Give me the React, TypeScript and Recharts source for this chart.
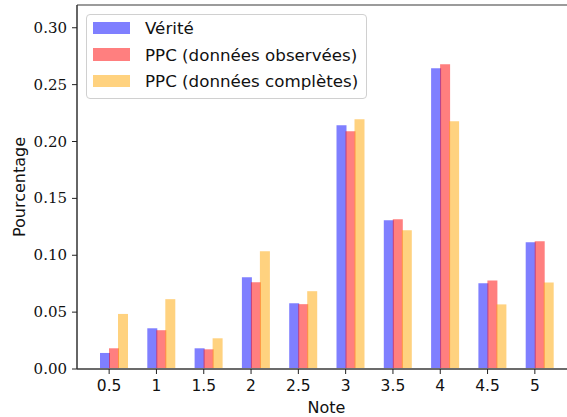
import { BarChart, Bar, XAxis, YAxis, Legend } from 'recharts'

const notes = ['0.5', '1', '1.5', '2', '2.5', '3', '3.5', '4', '4.5', '5']
const verite = [0.0141, 0.0358, 0.0182, 0.0807, 0.0578, 0.2143, 0.1307, 0.2645, 0.0753, 0.1114]
const ppcObservees = [0.0182, 0.0341, 0.0173, 0.0763, 0.057, 0.209, 0.1316, 0.268, 0.0779, 0.1122]
const ppcCompletes = [0.0484, 0.0614, 0.027, 0.1036, 0.0684, 0.2196, 0.1219, 0.2179, 0.0568, 0.0761]
const yTicks = [0, 0.05, 0.1, 0.15, 0.2, 0.25, 0.3]

const seriesInfo = [
  { key: 'verite', name: 'Vérité', color: '#0000ff' },
  { key: 'obs', name: 'PPC (données observées)', color: '#ff0000' },
  { key: 'comp', name: 'PPC (données complètes)', color: '#ffa500' },
]

const data = notes.map((note, i) => ({
  note,
  verite: verite[i],
  obs: ppcObservees[i],
  comp: ppcCompletes[i],
}))

const sans = '"DejaVu Sans", sans-serif'
const serif = '"DejaVu Serif", serif'

// matplotlib puts the tick a little left of the bar group centre
function XTick({ x, y, payload }: any) {
  const tx = x - 4.5
  return (
    <g>
      <line x1={tx} x2={tx} y1={y} y2={y + 5} stroke="#222" strokeWidth={1} />
      <text x={tx} y={y + 22} textAnchor="middle" fontFamily={sans} fontSize={15.5} fill="#111">
        {payload.value}
      </text>
    </g>
  )
}

function YTick({ x, y, payload }: any) {
  return (
    <text x={x} y={y + 5} textAnchor="end" fontFamily={serif} fontSize={15} fill="#111">
      {Number(payload.value).toFixed(2)}
    </text>
  )
}

function XLabel({ viewBox }: any) {
  return (
    <text x={viewBox.x + viewBox.width / 2 + 4.5} y={viewBox.y + 44} textAnchor="middle" fontFamily={sans} fontSize={16} fill="#111">
      Note
    </text>
  )
}

function YLabel({ viewBox }: any) {
  const cy = viewBox.y + viewBox.height / 2
  return (
    <text x={25} y={cy} transform={`rotate(-90 25 ${cy})`} textAnchor="middle" fontFamily={sans} fontSize={16} fill="#111">
      Pourcentage
    </text>
  )
}

function LegendBox() {
  return (
    <div
      style={{
        border: '1px solid #d0d0d0',
        borderRadius: 4,
        background: 'rgba(255,255,255,0.85)',
        padding: '0 8px 4px 6px',
        fontFamily: sans,
        fontSize: 16.7,
        color: '#111',
        whiteSpace: 'nowrap',
      }}
    >
      {seriesInfo.map((s) => (
        <div key={s.key} style={{ display: 'flex', alignItems: 'center', height: 26.4 }}>
          <span style={{ width: 37, height: 12.5, background: s.color, opacity: 0.5, marginRight: 15, display: 'inline-block' }} />
          <span>{s.name}</span>
        </div>
      ))}
    </div>
  )
}

export default function App() {
  return (
    <div style={{ position: 'absolute', left: 0, top: 0 }}>
      <BarChart width={567} height={417} data={data} margin={{ top: 4, right: 0, bottom: 0, left: 0 }} barSize={10} barGap={-1}>
        <XAxis
          dataKey="note"
          height={48}
          padding={{ left: 13, right: 4 }}
          tickSize={0}
          tickMargin={0}
          tickLine={false}
          tick={<XTick />}
          axisLine={{ stroke: '#6b6b6b', strokeWidth: 2 }}
          interval={0}
          label={<XLabel />}
        />
        <XAxis xAxisId="top" orientation="top" dataKey="note" height={1} tick={false} tickLine={false} axisLine={{ stroke: '#7a7a7a', strokeWidth: 1.5 }} />
        <YAxis
          width={77}
          domain={[0, 0.32]}
          ticks={yTicks}
          interval={0}
          tickSize={5}
          tickMargin={5}
          tickLine={{ stroke: '#222' }}
          axisLine={{ stroke: '#333', strokeWidth: 1.5 }}
          tick={<YTick />}
          label={<YLabel />}
        />
        <Legend
          layout="vertical"
          align="center"
          verticalAlign="middle"
          content={<LegendBox />}
          wrapperStyle={{ position: 'absolute', left: 86, top: 14, width: 'auto' }}
        />
        {seriesInfo.map((s) => (
          <Bar key={s.key} dataKey={s.key} name={s.name} fill={s.color} fillOpacity={0.5} isAnimationActive={false} />
        ))}
      </BarChart>
    </div>
  )
}
